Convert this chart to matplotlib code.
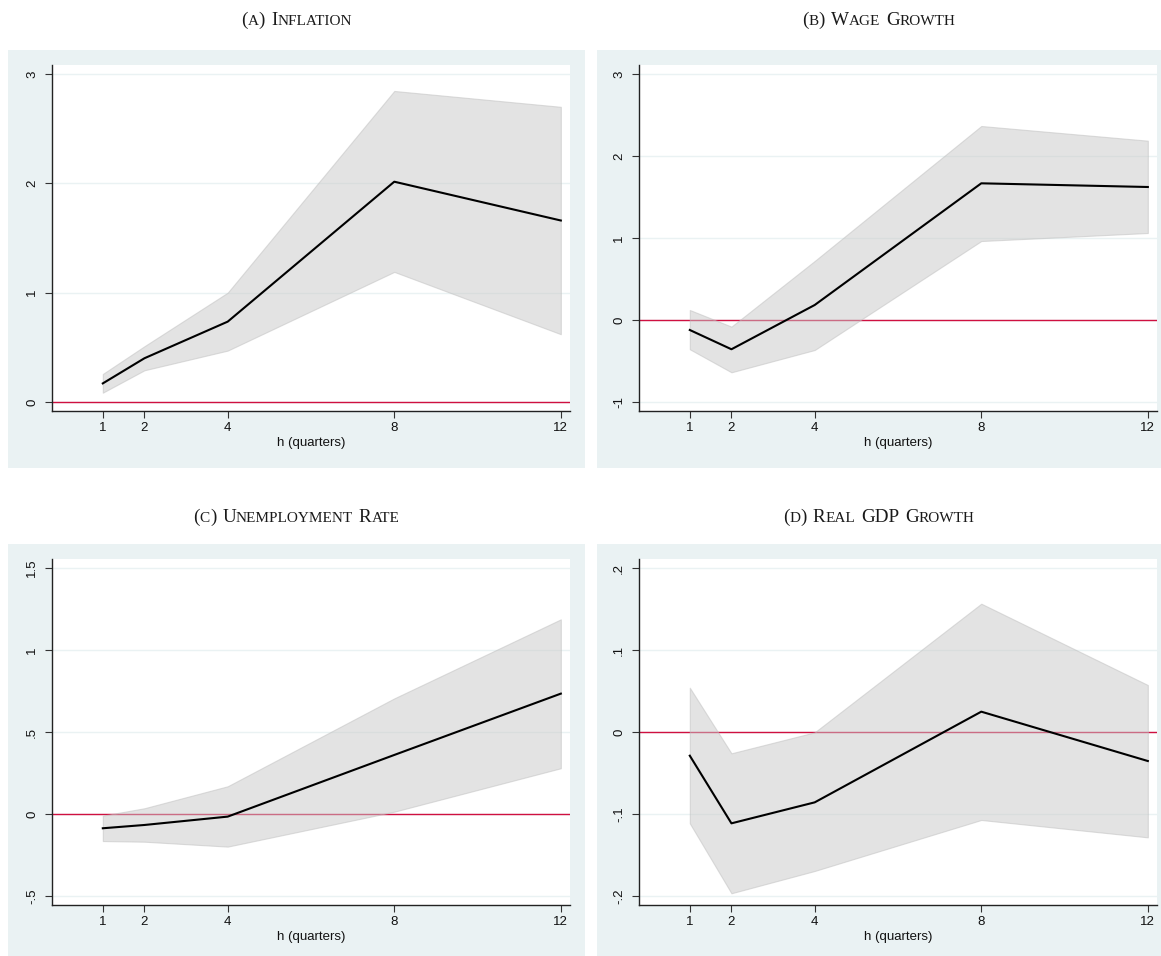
import matplotlib
matplotlib.use("Agg")
import matplotlib.pyplot as plt
from matplotlib.patches import Rectangle
from matplotlib.offsetbox import TextArea, HPacker, AnnotationBbox

# Horizons (quarters)
horizons = [1, 2, 4, 8, 12]

# Impulse responses with confidence bands
inflation_irf = [0.17, 0.40, 0.735, 2.015, 1.66]
inflation_hi = [0.256, 0.51, 1.00, 2.845, 2.70]
inflation_lo = [0.085, 0.29, 0.47, 1.19, 0.62]

wage_irf = [-0.122, -0.357, 0.183, 1.667, 1.622]
wage_hi = [0.122, -0.081, 0.72, 2.366, 2.187]
wage_lo = [-0.357, -0.638, -0.366, 0.963, 1.061]

unemp_irf = [-0.087, -0.067, -0.016, 0.36, 0.734]
unemp_hi = [-0.01, 0.035, 0.169, 0.705, 1.187]
unemp_lo = [-0.165, -0.169, -0.199, 0.014, 0.279]

gdp_irf = [-0.0289, -0.1114, -0.0858, 0.0248, -0.0354]
gdp_hi = [0.054, -0.026, -0.0004, 0.1565, 0.0573]
gdp_lo = [-0.1114, -0.1967, -0.1695, -0.1073, -0.1285]

titles = ["(a) Inflation", "(b) Wage Growth",
          "(c) Unemployment Rate", "(d) Real GDP Growth"]

inflation_ticks = [0, 1, 2, 3]
inflation_ticklabels = ["0", "1", "2", "3"]
wage_ticks = [-1, 0, 1, 2, 3]
wage_ticklabels = ["-1", "0", "1", "2", "3"]
unemp_ticks = [-0.5, 0, 0.5, 1, 1.5]
unemp_ticklabels = ["-.5", "0", ".5", "1", "1.5"]
gdp_ticks = [-0.2, -0.1, 0, 0.1, 0.2]
gdp_ticklabels = ["-.2", "-.1", "0", ".1", ".2"]

x_label = "h (quarters)"

W, H = 1161, 956
DPI = 100
BG = "#EAF2F3"
ZERO_RED = "#CF1040"
SANS = ["Liberation Sans", "DejaVu Sans"]
SERIF = ["Liberation Serif", "DejaVu Serif"]

fig = plt.figure(figsize=(W / DPI, H / DPI), dpi=DPI)
fig.patch.set_facecolor("white")


def px_rect(x0, y0, x1, y1):
    """Convert pixel box (top-left origin) to figure fraction [l, b, w, h]."""
    return [x0 / W, 1 - y1 / H, (x1 - x0) / W, (y1 - y0) / H]


def smallcaps_title(text, cx, cy, big=13.8, small=11.0):
    words = []
    for word in text.split(" "):
        runs = []
        for ch in word:
            is_small = ch.islower()
            glyph = ch.upper()
            if runs and runs[-1][1] == is_small:
                runs[-1][0] += glyph
            else:
                runs.append([glyph, is_small])
        boxes = [TextArea(s, textprops=dict(fontsize=small if sm else big,
                                            family=SERIF, color="#1a1a1a"))
                 for s, sm in runs]
        words.append(HPacker(children=boxes, align="baseline", pad=0, sep=0))
    pack = HPacker(children=words, align="baseline", pad=0, sep=4.2)
    ab = AnnotationBbox(pack, (cx / W, 1 - cy / H), xycoords="figure fraction",
                        frameon=False, box_alignment=(0.5, 0.5))
    fig.add_artist(ab)


panels = [
    dict(bg=(8, 50, 585, 468), plot=(52, 65, 570, 411), title_y=20,
         irf=inflation_irf, hi=inflation_hi, lo=inflation_lo,
         ticks=inflation_ticks, labels=inflation_ticklabels),
    dict(bg=(597, 50, 1161, 468), plot=(639, 65, 1157, 411), title_y=20,
         irf=wage_irf, hi=wage_hi, lo=wage_lo,
         ticks=wage_ticks, labels=wage_ticklabels),
    dict(bg=(8, 544, 585, 956), plot=(52, 559, 570, 905), title_y=517,
         irf=unemp_irf, hi=unemp_hi, lo=unemp_lo,
         ticks=unemp_ticks, labels=unemp_ticklabels),
    dict(bg=(597, 544, 1161, 956), plot=(639, 559, 1157, 905), title_y=517,
         irf=gdp_irf, hi=gdp_hi, lo=gdp_lo,
         ticks=gdp_ticks, labels=gdp_ticklabels),
]

for p, title in zip(panels, titles):
    bx0, by0, bx1, by1 = p["bg"]
    fig.add_artist(Rectangle((bx0 / W, 1 - by1 / H), (bx1 - bx0) / W,
                             (by1 - by0) / H, transform=fig.transFigure,
                             facecolor=BG, edgecolor="none", zorder=0))
    smallcaps_title(title, (bx0 + bx1) / 2, p["title_y"])

    ax = fig.add_axes(px_rect(*p["plot"]))
    ax.set_facecolor("white")
    ax.set_zorder(1)

    t = p["ticks"]
    rng = t[-1] - t[0]
    ax.set_ylim(t[0] - 0.0275 * rng, t[-1] + 0.0275 * rng)
    ax.set_xlim(-0.22, 12.22)

    for v in t:
        ax.axhline(v, color=BG, lw=1.0, zorder=1)
    ax.axhline(0, color=ZERO_RED, lw=1.0, zorder=2)

    ax.fill_between(horizons, p["lo"], p["hi"], facecolor="#C9C9C9",
                    alpha=0.5, edgecolor="#BEBEBE", linewidth=0.8, zorder=3)
    ax.plot(horizons, p["irf"], color="black", lw=1.5, zorder=4)

    ax.set_xticks(horizons)
    ax.set_xticklabels([str(h) for h in horizons], family=SANS, fontsize=9.5)
    ax.set_yticks(t)
    ax.set_yticklabels(p["labels"], family=SANS, fontsize=9.5,
                       rotation=90, va="center")
    ax.tick_params(axis="both", length=5, width=0.8, color="#333333",
                   labelcolor="#111111")
    ax.tick_params(axis="x", pad=3)
    ax.tick_params(axis="y", pad=5)
    ax.set_xlabel(x_label, family=SANS, fontsize=9.5, color="#111111",
                  labelpad=2)

    for side in ("top", "right"):
        ax.spines[side].set_visible(False)
    for side in ("left", "bottom"):
        ax.spines[side].set_color("#222222")
        ax.spines[side].set_linewidth(1.0)

fig.savefig("out.png", dpi=DPI, facecolor="white")
